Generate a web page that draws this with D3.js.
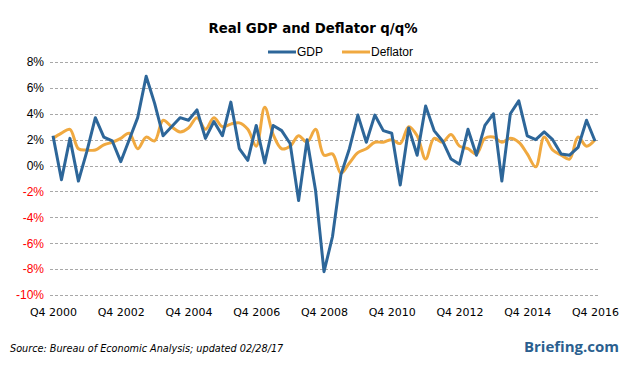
<!DOCTYPE html>
<html lang="en">
<head>
<meta charset="UTF-8">
<title>Real GDP and Deflator q/q%</title>
<script src="https://d3js.org/d3.v7.min.js"></script>
<style>
  body { margin: 0; background: #fff; }
  .grid line { stroke: #a8a8a8; stroke-dasharray: 3,2; stroke-width: 1; }
  .axis text { font-family: "Liberation Sans", Arial, sans-serif; font-size: 11px; fill: #000; }
</style>
</head>
<body>
<svg width="626" height="367"></svg>
<script>
// quarters Q4 2000 .. Q4 2016
var quarters = [];
for (var yr = 2000; yr <= 2016; yr++) {
  for (var q = 1; q <= 4; q++) {
    if (yr === 2000 && q < 4) continue;
    quarters.push("Q" + q + " " + yr);
  }
}

var gdp = [2.3,
  -1.1, 2.1, -1.2, 1.1,
  3.7, 2.2, 1.9, 0.3,
  2.0, 3.7, 6.9, 4.8,
  2.3, 3.0, 3.7, 3.5,
  4.3, 2.1, 3.4, 2.3,
  4.9, 1.3, 0.4, 3.1,
  0.2, 3.1, 2.7, 1.7,
  -2.7, 2.0, -1.9, -8.2,
  -5.5, -0.7, 1.3, 3.9,
  1.8, 3.9, 2.7, 2.5,
  -1.5, 2.9, 0.8, 4.6,
  2.7, 1.9, 0.5, 0.1,
  2.8, 0.8, 3.1, 4.0,
  -1.2, 4.0, 5.0, 2.3,
  2.0, 2.6, 2.0, 0.9,
  0.8, 1.4, 3.5, 1.9];

var deflator = [2.1,
  2.5, 2.8, 1.3, 1.2,
  1.2, 1.6, 1.8, 2.1,
  2.5, 1.3, 2.2, 1.9,
  3.5, 3.0, 2.6, 2.9,
  3.7, 2.8, 3.7, 3.0,
  3.2, 3.3, 2.8, 1.5,
  4.5, 2.4, 1.3, 1.5,
  2.3, 1.8, 2.8, 0.8,
  0.9, -0.6, 0.2, 1.0,
  1.3, 1.8, 1.8, 2.0,
  1.7, 3.0, 2.3, 0.5,
  2.1, 1.8, 2.4, 1.5,
  1.3, 0.9, 2.1, 2.2,
  1.8, 2.1, 1.8, 0.9,
  -0.1, 2.2, 1.2, 0.8,
  0.5, 2.2, 1.5, 2.0];

var yTicks = [8, 6, 4, 2, 0, -2, -4, -6, -8, -10];
var xTickLabels = ["Q4 2000", "Q4 2002", "Q4 2004", "Q4 2006", "Q4 2008",
                   "Q4 2010", "Q4 2012", "Q4 2014", "Q4 2016"];

var svg = d3.select("svg");

var x = d3.scalePoint().domain(quarters).range([53, 595]);
var y = d3.scaleLinear().domain([-10, 8]).range([295, 62]);

// gridlines
svg.append("g").attr("class", "grid")
  .selectAll("line").data(yTicks).enter().append("line")
  .attr("x1", 50).attr("x2", 598)
  .attr("y1", function(d) { return Math.round(y(d)) + 0.5; })
  .attr("y2", function(d) { return Math.round(y(d)) + 0.5; });

// y axis labels
var yAxis = svg.append("g").attr("class", "axis")
  .attr("transform", "translate(44,0)")
  .call(d3.axisLeft(y).tickValues(yTicks).tickSize(0).tickPadding(0)
    .tickFormat(function(d) { return d + "%"; }));
yAxis.select(".domain").remove();
yAxis.selectAll("text")
  .style("font-size", "12px")
  .style("fill", function(d) { return d < 0 ? "#ff0000" : "#000"; });

// x axis labels
var xAxis = svg.append("g").attr("class", "axis")
  .attr("transform", "translate(0,308)")
  .call(d3.axisBottom(x).tickValues(xTickLabels).tickSize(0).tickPadding(0));
xAxis.select(".domain").remove();
xAxis.selectAll("text")
  .style("font-family", "'DejaVu Sans', Verdana, sans-serif")
  .style("font-size", "11px");

// lines
var lineGdp = d3.line()
  .x(function(d, i) { return x(quarters[i]); })
  .y(function(d) { return y(d); });

var lineDefl = d3.line()
  .x(function(d, i) { return x(quarters[i]); })
  .y(function(d) { return y(d); })
  .curve(d3.curveCatmullRom.alpha(0.5));

svg.append("path").datum(deflator)
  .attr("d", lineDefl)
  .attr("fill", "none")
  .attr("stroke", "#f0a940")
  .attr("stroke-width", 3)
  .attr("stroke-linejoin", "round");

svg.append("path").datum(gdp)
  .attr("d", lineGdp)
  .attr("fill", "none")
  .attr("stroke", "#2d6699")
  .attr("stroke-width", 3)
  .attr("stroke-linejoin", "round");

// title
svg.append("text")
  .attr("x", 313).attr("y", 33)
  .attr("text-anchor", "middle")
  .style("font-family", "'DejaVu Sans', Verdana, sans-serif")
  .style("font-weight", "bold")
  .style("font-size", "13.3px")
  .text("Real GDP and Deflator q/q%");

// legend
var legend = [
  { name: "GDP", color: "#2d6699", x: 268 },
  { name: "Deflator", color: "#f0a940", x: 342 }
];
var lg = svg.append("g").selectAll("g").data(legend).enter().append("g")
  .attr("transform", function(d) { return "translate(" + d.x + ",52)"; });
lg.append("line").attr("x1", 0).attr("x2", 28).attr("y1", 0).attr("y2", 0)
  .attr("stroke", function(d) { return d.color; }).attr("stroke-width", 3);
lg.append("text").attr("x", 29).attr("y", 4)
  .style("font-family", "'Liberation Sans', Arial, sans-serif")
  .style("font-size", "12px")
  .text(function(d) { return d.name; });

// source
svg.append("text")
  .attr("x", 10).attr("y", 352)
  .style("font-family", "'DejaVu Sans', Verdana, sans-serif")
  .style("font-style", "italic")
  .style("font-size", "9.7px")
  .text("Source: Bureau of Economic Analysis; updated 02/28/17");

svg.append("text")
  .attr("x", 619).attr("y", 352)
  .attr("text-anchor", "end")
  .style("font-family", "'Open Sans', sans-serif")
  .style("font-weight", "bold")
  .style("font-size", "15px")
  .style("fill", "#2b5f8f")
  .text("Briefing.com");
</script>
</body>
</html>
